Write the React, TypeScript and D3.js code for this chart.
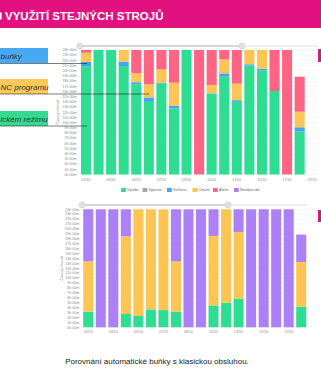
import React from "react";
import * as d3 from "d3";

const topDates = ["01/10","02/10","03/10","04/10","05/10","06/10","07/10","08/10","09/10","10/10","11/10","12/10","13/10","14/10","15/10","16/10","17/10","18/10","19/10"];
const topVyroba = [20.9, 24, 24, 20.9, 17.4, 14.0, 17.5, 12.75, 24, 0, 15.65, 18.85, 14.0, 21.0, 20.1, 16.1, 0, 8.25, 0];
const topVypnuto = [0, 0, 0, 0, 0, 0, 0, 0, 0, 0, 0, 0, 0, 0, 0, 0, 0, 0, 0];
const topSerizeni = [0.83, 0, 0, 0.85, 0.39, 0.85, 0.19, 0.5, 0, 0, 0, 0.64, 0.33, 0.25, 0.3, 0, 0, 0.85, 0];
const topCekani = [1.73, 0, 0, 2.25, 1.73, 2.56, 2.58, 4.43, 0, 0, 1.6, 2.7, 3.2, 2.75, 3.6, 0, 0, 3.0, 0];
const topAlarm = [0.54, 0, 0, 0, 4.48, 6.59, 3.73, 6.32, 0, 24, 6.75, 1.81, 6.47, 0, 0, 7.9, 24, 6.75, 0];
const topNeodpovida = [0, 0, 0, 0, 0, 0, 0, 0, 0, 0, 0, 0, 0, 0, 0, 0, 0, 0, 0];

const botDates = ["01/10","02/10","03/10","04/10","05/10","06/10","07/10","08/10","09/10","10/10","11/10","12/10","13/10","14/10","15/10","16/10","17/10","18/10"];
const botVyroba = [3.2, 0, 0, 2.7, 2.3, 3.65, 3.5, 3.2, 0, 0, 4.46, 5.0, 5.8, 0, 0, 0, 0, 4.2];
const botCekani = [10.2, 0, 0, 15.8, 21.7, 20.35, 20.5, 10.2, 0, 0, 14.14, 19.0, 13.6, 0, 0, 0, 0, 9.1];
const botNeodpovida = [10.6, 24, 24, 5.5, 0, 0, 0, 10.6, 24, 24, 5.4, 0, 4.6, 24, 24, 24, 24, 5.55];

const hourTicks = d3.range(0, 25);
const seriesNames = ["Výroba", "Vypnuto", "Seřízení", "Čekání", "Alarm", "Neodpovídá"];
const seriesColors = ["#2fdd92", "#a8a8a8", "#42a5f5", "#fdc654", "#fe6585", "#ac80f7"];

const title = "VYUŽITÍ STEJNÝCH STROJŮ";
const caption = "Porovnání automatické buňky s klasickou obsluhou.";
const axisTitle = "Časový interval";
const callouts = [
  { text: "buňky", color: "#47a8f3" },
  { text: "NC programu", color: "#fcc958" },
  { text: "ickém režimu", color: "#32db90" },
];

type ChartProps = {
  dates: string[];
  series: { key: string; values: number[]; color: string }[];
  x0: number; x1: number; yTop: number; yBot: number;
  labelRight: number; titleX: number; sliderY: number; sliderEnd: number;
};

function StackChart(p: ChartProps) {
  const x = d3.scaleBand<string>().domain(p.dates).range([p.x0, p.x1]).paddingInner(0.2).paddingOuter(0.1);
  const y = d3.scaleLinear().domain([0, 24]).range([p.yBot, p.yTop]);
  const rows = p.dates.map((d, i) => {
    const r: any = { date: d };
    p.series.forEach((s) => (r[s.key] = s.values[i]));
    return r;
  });
  const stack = d3.stack<any>().keys(p.series.map((s) => s.key));
  const layers = stack(rows);
  const font = "Liberation Sans, Arial, sans-serif";
  return (
    <g>
      {/* slider */}
      <line x1={p.x0} x2={p.x1} y1={p.sliderY} y2={p.sliderY} stroke="#efefef" strokeWidth={2} />
      <line x1={p.x0} x2={p.sliderEnd} y1={p.sliderY} y2={p.sliderY} stroke="#d6d6d6" strokeWidth={2} />
      <circle cx={p.x0} cy={p.sliderY} r={3} fill="#e0e0e0" stroke="#cfcfcf" strokeWidth={0.6} />
      <circle cx={p.sliderEnd} cy={p.sliderY} r={3} fill="#e0e0e0" stroke="#cfcfcf" strokeWidth={0.6} />
      {/* grid */}
      {hourTicks.map((h) => (
        <line key={h} x1={p.x0} x2={p.x1} y1={y(h)} y2={y(h)} stroke="#eeeeee" strokeWidth={0.5} />
      ))}
      {hourTicks.map((h) => (
        <text key={"t" + h} x={p.labelRight} y={y(h)} dy="0.35em" textAnchor="end" fontSize={3.6} fill="#888" fontFamily={font}>
          {`${h}h 00m`}
        </text>
      ))}
      <text transform={`translate(${p.titleX},${(p.yTop + p.yBot) / 2}) rotate(-90)`} textAnchor="middle" fontSize={3.6} fill="#888" fontFamily={font}>
        {axisTitle}
      </text>
      {layers.map((layer, li) => (
        <g key={layer.key} fill={p.series[li].color}>
          {layer.map((d, i) =>
            d[1] - d[0] > 0 ? (
              <rect key={i} x={x(p.dates[i])} width={x.bandwidth()} y={y(d[1])} height={y(d[0]) - y(d[1])} />
            ) : null
          )}
        </g>
      ))}
      {p.dates.map((d, i) =>
        i % 2 === 0 ? (
          <text key={d} x={(x(d) as number) + x.bandwidth() / 2} y={p.yBot + 6} textAnchor="middle" fontSize={3.6} fill="#888" fontFamily={font}>
            {d}
          </text>
        ) : null
      )}
    </g>
  );
}

export default function App() {
  const W = 321, H = 375;
  const font = "Liberation Sans, Arial, sans-serif";
  const topSeries = [
    { key: seriesNames[0], values: topVyroba, color: seriesColors[0] },
    { key: seriesNames[1], values: topVypnuto, color: seriesColors[1] },
    { key: seriesNames[2], values: topSerizeni, color: seriesColors[2] },
    { key: seriesNames[3], values: topCekani, color: seriesColors[3] },
    { key: seriesNames[4], values: topAlarm, color: seriesColors[4] },
    { key: seriesNames[5], values: topNeodpovida, color: seriesColors[5] },
  ];
  const botSeries = [
    { key: seriesNames[0], values: botVyroba, color: seriesColors[0] },
    { key: seriesNames[3], values: botCekani, color: seriesColors[3] },
    { key: seriesNames[5], values: botNeodpovida, color: seriesColors[5] },
  ];
  const legendX = [121, 142.5, 167, 192.5, 213, 234];
  const boxY = [48, 79, 111];
  return (
    <svg width={W} height={H} style={{ position: "absolute", left: 0, top: 0 }}>
      <rect width={W} height={H} fill="#fff" />
      {/* header */}
      <rect x={0} y={0} width={W} height={28} fill="#e3107f" />
      <rect x={0} y={12.5} width={1.6} height={7} fill="#fff" />
      <text x={5} y={20} fill="#fff" fontSize={11.5} fontWeight="bold" fontFamily={font}>
        {title}
      </text>
      {/* right tabs */}
      <rect x={318} y={49} width={3} height={13} fill="#e3107f" />
      <rect x={318} y={210} width={3} height={12} fill="#e3107f" />

      <StackChart dates={topDates} series={topSeries} x0={79.7} x1={318.5} yTop={50} yBot={174.5}
        labelRight={76.5} titleX={59} sliderY={46} sliderEnd={242} />
      {/* legend */}
      {seriesNames.map((n, i) => (
        <g key={n}>
          <rect x={legendX[i]} y={188} width={4.8} height={4} fill={seriesColors[i]} />
          <text x={legendX[i] + 6} y={190} dy="0.35em" fontSize={3.6} fill="#666" fontFamily={font}>{n}</text>
        </g>
      ))}

      <StackChart dates={botDates} series={botSeries} x0={82} x1={307.5} yTop={209.3} yBot={327.3}
        labelRight={79.3} titleX={63} sliderY={205} sliderEnd={228} />

      {/* callouts */}
      {callouts.map((c, i) => (
        <g key={c.text}>
          <rect x={0} y={boxY[i]} width={48} height={15} fill={c.color} />
          <text x={0.5} y={boxY[i] + 10.5} fontSize={8} fontStyle="italic" fill="#333" fontFamily={font}>{c.text}</text>
        </g>
      ))}
      <line x1={0} x2={87} y1={63.5} y2={63.5} stroke="#222" strokeWidth={0.6} />
      <line x1={0} x2={149} y1={94} y2={94} stroke="#222" strokeWidth={0.6} />
      <line x1={0} x2={87} y1={126} y2={126} stroke="#222" strokeWidth={0.6} />

      <text x={157} y={364} textAnchor="middle" fontSize={8} fill="#222" fontFamily={font}>{caption}</text>
    </svg>
  );
}
